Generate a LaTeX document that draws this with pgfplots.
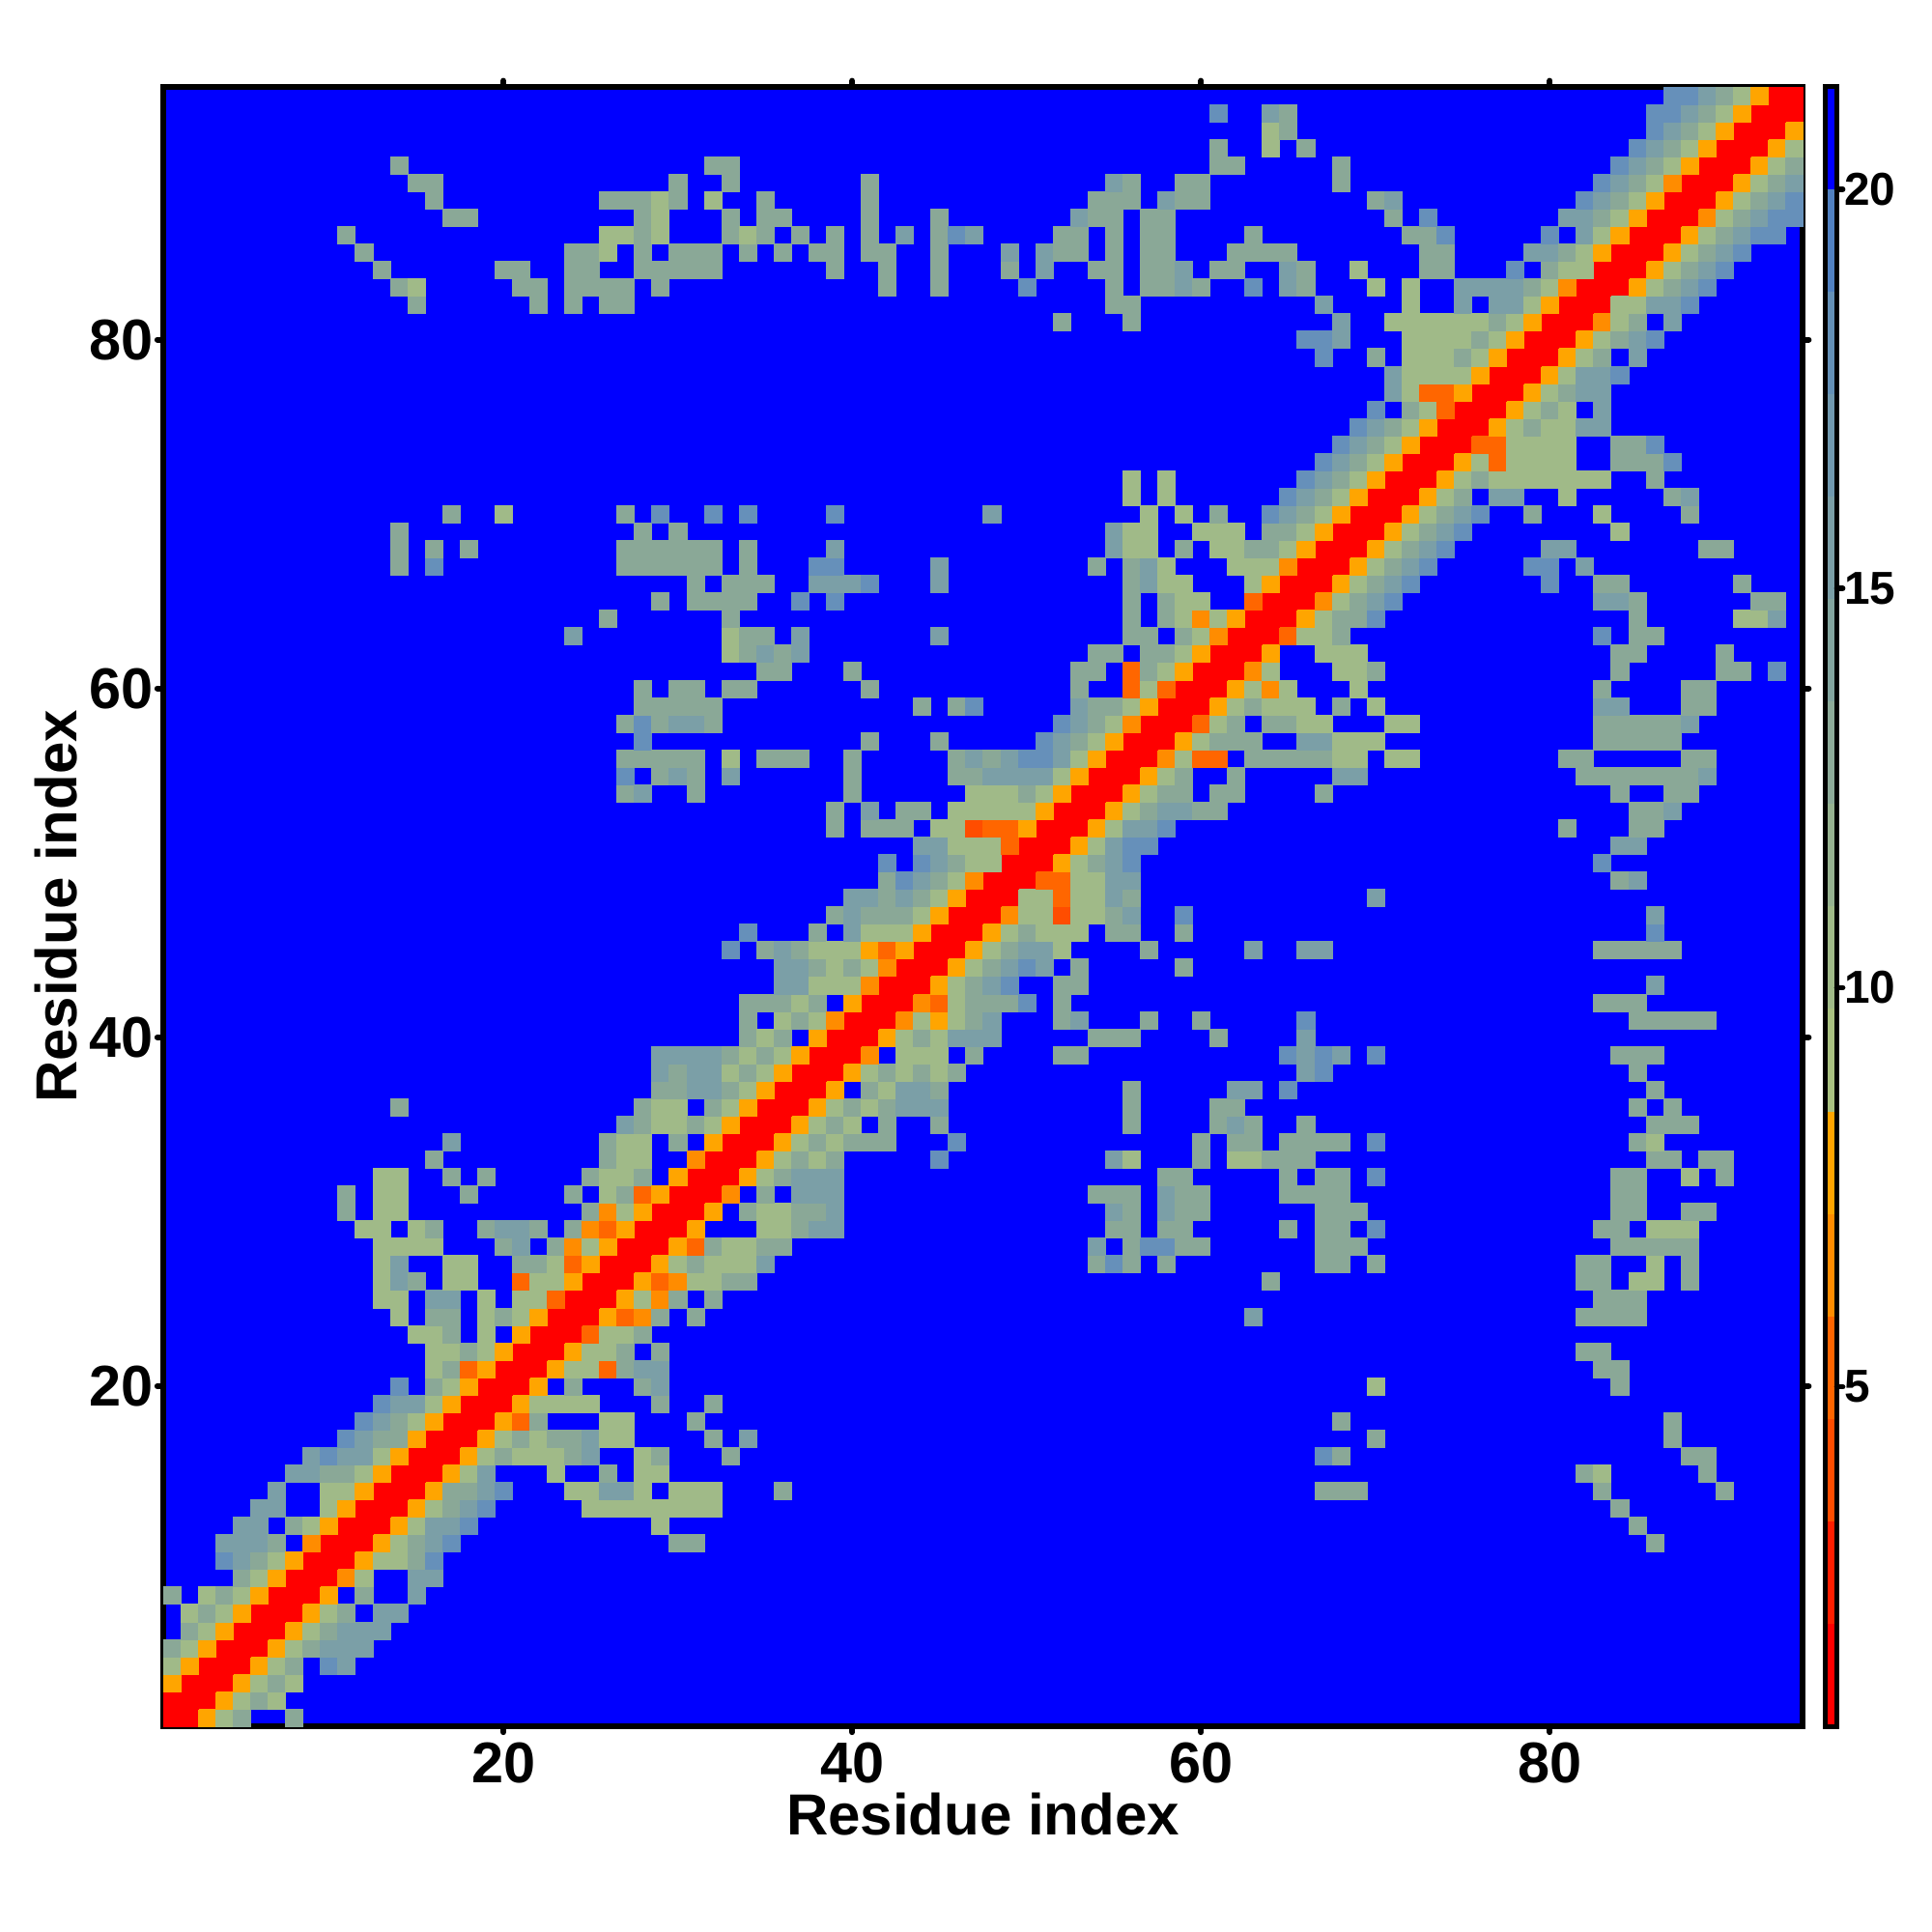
\documentclass[border=0pt]{standalone}
\usepackage{fontspec}
\setmainfont{Liberation Sans}
\usepackage{pgfplots}
\usepackage{pgfplotstable}
\pgfplotsset{compat=1.18}
\definecolor{cR}{HTML}{FF0000}
\definecolor{cF}{HTML}{FF4D00}
\definecolor{cE}{HTML}{FF6600}
\definecolor{cD}{HTML}{FF8C00}
\definecolor{cO}{HTML}{FFA500}
\definecolor{cS}{HTML}{A0BA88}
\definecolor{cG}{HTML}{8AA897}
\definecolor{cH}{HTML}{7B9FA7}
\definecolor{cT}{HTML}{6690BA}
\pgfplotstableread[row sep=\\,col sep=space]{x y c\\
1 1 r\\2 1 r\\2 2 r\\3 2 r\\3 3 r\\4 3 r\\4 4 r\\5 4 r\\5 5 r\\6 5 r\\6 6 r\\7 6 r\\7 7 r\\8 7 r\\8 8 r\\9 8 r\\9 9 r\\10 9 r\\10 10 r\\11 10 r\\
11 11 r\\12 11 r\\12 12 r\\13 12 r\\13 13 r\\14 13 r\\14 14 r\\15 14 r\\15 15 r\\16 15 r\\16 16 r\\17 16 r\\17 17 r\\18 17 r\\18 18 r\\19 18 r\\19 19 r\\20 19 r\\20 20 r\\21 20 r\\
21 21 r\\22 21 r\\22 22 r\\23 22 r\\23 23 r\\24 23 r\\24 24 r\\25 24 r\\25 25 r\\26 25 r\\26 26 r\\27 26 r\\27 27 r\\28 27 r\\28 28 r\\29 28 r\\29 29 r\\30 29 r\\30 30 r\\31 30 r\\
31 31 r\\32 31 r\\32 32 r\\33 32 r\\33 33 r\\34 33 r\\34 34 r\\35 34 r\\35 35 r\\36 35 r\\36 36 r\\37 36 r\\37 37 r\\38 37 r\\38 38 r\\39 38 r\\39 39 r\\40 39 r\\40 40 r\\41 40 r\\
41 41 r\\42 41 r\\42 42 r\\43 42 r\\43 43 r\\44 43 r\\44 44 r\\45 44 r\\45 45 r\\46 45 r\\46 46 r\\47 46 r\\47 47 r\\48 47 r\\48 48 r\\49 48 r\\49 49 r\\50 49 r\\50 50 r\\51 50 r\\
51 51 r\\52 51 r\\52 52 r\\53 52 r\\53 53 r\\54 53 r\\54 54 r\\55 54 r\\55 55 r\\56 55 r\\56 56 r\\57 56 r\\57 57 r\\58 57 r\\58 58 r\\59 58 r\\59 59 r\\60 59 r\\60 60 r\\61 60 r\\
61 61 r\\62 61 r\\62 62 r\\63 62 r\\63 63 r\\64 63 r\\64 64 r\\65 64 r\\65 65 r\\66 65 r\\66 66 r\\67 66 r\\67 67 r\\68 67 r\\68 68 r\\69 68 r\\69 69 r\\70 69 r\\70 70 r\\71 70 r\\
71 71 r\\72 71 r\\72 72 r\\73 72 r\\73 73 r\\74 73 r\\74 74 r\\75 74 r\\75 75 r\\76 75 r\\76 76 r\\77 76 r\\77 77 r\\78 77 r\\78 78 r\\79 78 r\\79 79 r\\80 79 r\\80 80 r\\81 80 r\\
81 81 r\\82 81 r\\82 82 r\\83 82 r\\83 83 r\\84 83 r\\84 84 r\\85 84 r\\85 85 r\\86 85 r\\86 86 r\\87 86 r\\87 87 r\\88 87 r\\88 88 r\\89 88 r\\89 89 r\\90 89 r\\90 90 r\\91 90 r\\
91 91 r\\92 91 r\\92 92 r\\93 92 r\\93 93 r\\94 93 r\\94 94 r\\
3 1 O\\4 1 s\\5 1 g\\8 1 g\\
4 2 O\\5 2 s\\6 2 g\\7 2 s\\
5 3 O\\6 3 s\\7 3 g\\8 3 s\\
6 4 O\\7 4 s\\8 4 g\\10 4 t\\11 4 h\\
7 5 O\\8 5 s\\9 5 g\\10 5 h\\11 5 h\\12 5 h\\
8 6 O\\9 6 s\\10 6 g\\11 6 h\\12 6 h\\13 6 h\\
9 7 O\\10 7 s\\11 7 g\\13 7 h\\14 7 h\\
10 8 O\\12 8 g\\15 8 h\\
11 9 D\\12 9 s\\15 9 h\\16 9 h\\
12 10 O\\13 10 s\\14 10 s\\15 10 g\\16 10 t\\
13 11 O\\14 11 s\\15 11 g\\16 11 h\\17 11 t\\30 11 g\\31 11 g\\86 11 g\\
14 12 O\\15 12 s\\16 12 h\\17 12 h\\18 12 t\\29 12 s\\85 12 g\\
15 13 O\\16 13 s\\17 13 g\\18 13 h\\19 13 t\\25 13 s\\26 13 s\\27 13 s\\28 13 s\\29 13 s\\30 13 s\\31 13 s\\32 13 s\\84 13 g\\
16 14 O\\17 14 g\\18 14 g\\19 14 h\\20 14 t\\24 14 s\\25 14 s\\26 14 h\\27 14 h\\28 14 s\\30 14 s\\31 14 s\\32 14 s\\36 14 g\\67 14 g\\68 14 g\\69 14 g\\83 14 g\\90 14 g\\
17 15 O\\18 15 s\\19 15 h\\23 15 s\\26 15 g\\28 15 s\\29 15 s\\82 15 g\\83 15 s\\89 15 g\\
18 16 O\\19 16 s\\20 16 g\\21 16 s\\22 16 s\\23 16 s\\24 16 g\\25 16 h\\28 16 s\\29 16 g\\33 16 g\\67 16 t\\68 16 g\\88 16 g\\89 16 g\\
19 17 O\\20 17 s\\21 17 g\\22 17 s\\23 17 g\\24 17 g\\25 17 h\\26 17 s\\27 17 s\\32 17 g\\34 17 h\\70 17 g\\87 17 g\\
20 18 O\\21 18 E\\22 18 g\\26 18 s\\27 18 s\\31 18 g\\68 18 g\\87 18 g\\
21 19 O\\22 19 s\\23 19 s\\24 19 s\\25 19 s\\29 19 g\\32 19 g\\
22 20 O\\24 20 g\\28 20 g\\29 20 h\\70 20 s\\84 20 g\\
23 21 O\\24 21 s\\25 21 s\\26 21 E\\27 21 g\\28 21 h\\29 21 h\\83 21 g\\84 21 g\\
24 22 O\\25 22 s\\26 22 s\\27 22 g\\29 22 g\\82 22 g\\83 22 g\\
25 23 E\\26 23 s\\27 23 s\\28 23 g\\
26 24 O\\27 24 E\\28 24 D\\29 24 g\\31 24 g\\63 24 h\\82 24 g\\83 24 g\\84 24 g\\85 24 g\\
27 25 O\\28 25 s\\29 25 D\\30 25 g\\32 25 g\\83 25 g\\84 25 g\\85 25 g\\
28 26 O\\29 26 E\\30 26 D\\31 26 s\\32 26 s\\33 26 g\\34 26 g\\64 26 g\\82 26 g\\83 26 g\\85 26 s\\86 26 s\\88 26 g\\
29 27 O\\30 27 s\\31 27 g\\32 27 s\\33 27 s\\34 27 s\\35 27 h\\54 27 g\\55 27 t\\56 27 g\\58 27 g\\67 27 g\\68 27 g\\70 27 g\\82 27 g\\83 27 g\\86 27 s\\88 27 g\\
30 28 O\\31 28 E\\32 28 g\\33 28 s\\34 28 s\\35 28 g\\36 28 g\\54 28 h\\56 28 g\\57 28 t\\58 28 t\\59 28 g\\60 28 g\\67 28 g\\68 28 g\\69 28 g\\84 28 g\\85 28 g\\86 28 g\\87 28 g\\88 28 g\\
31 29 O\\35 29 s\\36 29 s\\37 29 g\\38 29 h\\39 29 h\\55 29 g\\56 29 g\\58 29 g\\59 29 g\\65 29 g\\67 29 g\\68 29 g\\70 29 t\\83 29 g\\84 29 g\\86 29 s\\87 29 s\\88 29 s\\
32 30 O\\34 30 g\\35 30 s\\36 30 s\\37 30 g\\38 30 g\\39 30 h\\55 30 h\\56 30 g\\58 30 h\\59 30 g\\60 30 g\\67 30 g\\68 30 g\\69 30 g\\84 30 g\\85 30 g\\88 30 g\\89 30 g\\
33 31 D\\35 31 g\\37 31 h\\38 31 h\\39 31 h\\54 31 g\\55 31 g\\56 31 g\\58 31 h\\59 31 g\\60 31 g\\65 31 g\\66 31 g\\67 31 g\\68 31 g\\84 31 g\\85 31 g\\
34 32 O\\35 32 s\\36 32 g\\37 32 h\\38 32 h\\39 32 h\\58 32 g\\59 32 g\\65 32 g\\67 32 g\\68 32 g\\70 32 t\\84 32 g\\85 32 g\\88 32 s\\90 32 g\\
35 33 O\\36 33 s\\37 33 g\\38 33 s\\39 33 g\\45 33 t\\55 33 h\\56 33 s\\60 33 g\\62 33 s\\63 33 s\\64 33 g\\65 33 g\\66 33 g\\86 33 g\\87 33 g\\89 33 g\\90 33 g\\
36 34 O\\37 34 s\\38 34 g\\39 34 s\\40 34 g\\41 34 g\\42 34 g\\46 34 t\\60 34 g\\62 34 g\\63 34 g\\65 34 g\\66 34 g\\67 34 g\\68 34 g\\70 34 t\\85 34 g\\86 34 s\\
37 35 O\\38 35 s\\39 35 g\\40 35 s\\42 35 g\\45 35 g\\56 35 g\\61 35 g\\62 35 h\\63 35 g\\66 35 g\\86 35 g\\87 35 g\\88 35 g\\
38 36 O\\39 36 s\\40 36 g\\41 36 s\\42 36 g\\43 36 h\\44 36 h\\45 36 h\\56 36 g\\61 36 g\\62 36 g\\85 36 g\\87 36 g\\
39 37 O\\41 37 g\\42 37 s\\43 37 h\\44 37 h\\45 37 g\\56 37 g\\62 37 h\\63 37 h\\65 37 t\\86 37 g\\
40 38 O\\41 38 s\\42 38 g\\43 38 s\\44 38 g\\45 38 s\\46 38 g\\66 38 h\\67 38 t\\85 38 g\\
41 39 D\\43 39 s\\44 39 s\\45 39 s\\47 39 g\\52 39 g\\53 39 g\\65 39 t\\66 39 h\\67 39 t\\68 39 h\\70 39 t\\84 39 g\\85 39 g\\86 39 g\\
42 40 O\\43 40 s\\44 40 g\\45 40 s\\46 40 h\\47 40 h\\48 40 h\\54 40 g\\55 40 g\\56 40 g\\61 40 g\\66 40 h\\
43 41 D\\44 41 s\\45 41 O\\46 41 s\\47 41 g\\48 41 h\\52 41 g\\53 41 h\\57 41 g\\60 41 g\\66 41 t\\85 41 g\\86 41 g\\87 41 g\\88 41 g\\89 41 g\\
44 42 D\\45 42 E\\46 42 s\\47 42 g\\48 42 g\\49 42 g\\50 42 t\\52 42 g\\83 42 g\\84 42 g\\85 42 g\\
45 43 O\\46 43 s\\47 43 g\\48 43 h\\49 43 t\\52 43 g\\53 43 g\\86 43 h\\
46 44 O\\47 44 s\\48 44 g\\49 44 h\\50 44 t\\51 44 h\\53 44 g\\59 44 g\\
47 45 O\\48 45 s\\49 45 g\\50 45 h\\51 45 h\\52 45 s\\57 45 g\\63 45 h\\66 45 h\\67 45 h\\83 45 g\\84 45 g\\85 45 g\\86 45 g\\87 45 g\\
48 46 O\\49 46 s\\50 46 g\\51 46 s\\52 46 s\\53 46 s\\55 46 g\\56 46 g\\59 46 g\\86 46 t\\
49 47 D\\50 47 s\\51 47 s\\52 47 F\\53 47 s\\54 47 s\\55 47 g\\56 47 h\\59 47 t\\86 47 h\\
50 48 s\\51 48 s\\52 48 E\\53 48 s\\54 48 s\\55 48 h\\56 48 g\\70 48 h\\
51 49 E\\52 49 E\\53 49 s\\54 49 s\\55 49 h\\56 49 h\\84 49 g\\85 49 h\\
52 50 O\\53 50 s\\54 50 g\\55 50 h\\56 50 t\\83 50 t\\
53 51 O\\54 51 s\\55 51 h\\56 51 t\\57 51 t\\84 51 h\\85 51 h\\
54 52 O\\55 52 s\\56 52 h\\57 52 h\\58 52 t\\81 52 g\\85 52 g\\86 52 g\\
55 53 O\\56 53 s\\57 53 g\\58 53 h\\59 53 h\\60 53 g\\61 53 g\\85 53 g\\86 53 g\\87 53 h\\
56 54 O\\57 54 s\\58 54 g\\59 54 g\\61 54 g\\62 54 g\\67 54 g\\84 54 g\\87 54 g\\88 54 g\\
57 55 O\\58 55 s\\59 55 g\\62 55 g\\68 55 h\\69 55 h\\82 55 g\\83 55 g\\84 55 g\\85 55 g\\86 55 g\\87 55 g\\88 55 g\\89 55 h\\
58 56 D\\59 56 s\\60 56 E\\61 56 E\\63 56 g\\64 56 g\\65 56 g\\66 56 g\\67 56 g\\68 56 s\\69 56 s\\71 56 s\\72 56 s\\81 56 g\\82 56 g\\88 56 g\\89 56 g\\
59 57 O\\60 57 s\\61 57 g\\62 57 g\\63 57 g\\66 57 h\\67 57 h\\68 57 s\\69 57 s\\70 57 s\\83 57 g\\84 57 g\\85 57 g\\86 57 g\\87 57 g\\
60 58 E\\61 58 s\\62 58 g\\64 58 g\\65 58 g\\66 58 s\\67 58 s\\71 58 s\\72 58 s\\83 58 g\\84 58 g\\85 58 g\\86 58 g\\87 58 g\\88 58 h\\
61 59 O\\62 59 s\\63 59 g\\64 59 s\\65 59 s\\66 59 s\\68 59 g\\70 59 s\\83 59 h\\84 59 h\\88 59 g\\89 59 g\\
62 60 O\\63 60 s\\64 60 D\\65 60 s\\69 60 s\\83 60 g\\88 60 g\\89 60 g\\
63 61 D\\64 61 s\\68 61 s\\69 61 s\\70 61 g\\84 61 g\\90 61 g\\91 61 g\\93 61 t\\
64 62 O\\67 62 s\\68 62 s\\69 62 s\\84 62 g\\85 62 g\\90 62 g\\
65 63 E\\66 63 s\\67 63 s\\68 63 g\\83 63 t\\85 63 g\\86 63 g\\
66 64 O\\67 64 s\\68 64 g\\69 64 g\\70 64 t\\85 64 g\\91 64 s\\92 64 s\\93 64 h\\
67 65 D\\68 65 s\\69 65 g\\70 65 h\\71 65 t\\83 65 h\\84 65 h\\85 65 g\\92 65 g\\93 65 g\\
68 66 O\\69 66 s\\70 66 g\\71 66 h\\72 66 t\\80 66 t\\83 66 g\\84 66 g\\91 66 g\\
69 67 O\\70 67 s\\71 67 g\\72 67 h\\73 67 t\\79 67 t\\80 67 t\\82 67 h\\
70 68 O\\71 68 s\\72 68 g\\73 68 h\\74 68 t\\80 68 h\\81 68 h\\89 68 g\\90 68 g\\
71 69 O\\72 69 s\\73 69 g\\74 69 h\\75 69 t\\84 69 s\\
72 70 O\\73 70 s\\74 70 g\\75 70 h\\76 70 t\\79 70 g\\83 70 s\\88 70 g\\
73 71 O\\74 71 s\\75 71 g\\77 71 h\\78 71 h\\81 71 s\\87 71 g\\88 71 h\\
74 72 O\\75 72 s\\76 72 g\\77 72 s\\78 72 s\\79 72 s\\80 72 s\\81 72 s\\82 72 s\\83 72 s\\86 72 g\\
75 73 O\\76 73 s\\77 73 E\\78 73 s\\79 73 s\\80 73 s\\81 73 s\\84 73 g\\85 73 g\\86 73 g\\87 73 t\\
76 74 E\\77 74 E\\78 74 s\\79 74 s\\80 74 s\\81 74 s\\84 74 g\\85 74 g\\86 74 t\\
77 75 O\\78 75 s\\79 75 g\\80 75 s\\81 75 s\\82 75 h\\83 75 h\\
78 76 O\\79 76 s\\80 76 g\\81 76 s\\83 76 h\\
79 77 O\\80 77 s\\81 77 g\\82 77 h\\83 77 h\\
80 78 O\\81 78 s\\82 78 h\\83 78 h\\84 78 t\\
81 79 O\\82 79 s\\83 79 g\\85 79 h\\
82 80 O\\83 80 s\\84 80 g\\85 80 h\\86 80 t\\
83 81 D\\84 81 s\\85 81 g\\87 81 h\\
84 82 s\\85 82 s\\86 82 h\\87 82 h\\88 82 t\\
85 83 O\\86 83 s\\87 83 g\\88 83 h\\89 83 t\\
86 84 O\\87 84 s\\88 84 g\\89 84 h\\90 84 t\\
87 85 O\\88 85 s\\89 85 g\\90 85 h\\91 85 t\\
88 86 O\\89 86 s\\90 86 g\\91 86 h\\92 86 t\\93 86 t\\
89 87 D\\90 87 s\\91 87 g\\92 87 h\\93 87 t\\94 87 t\\
90 88 O\\91 88 s\\92 88 g\\93 88 h\\94 88 t\\
91 89 O\\92 89 s\\93 89 g\\94 89 h\\
92 90 O\\93 90 s\\94 90 g\\
93 91 O\\94 91 s\\
94 92 O\\
}\cells
\pgfplotsset{
  cellstyle/.style={
    scatter, only marks, scatter src=explicit symbolic, mark size=3.25pt,
    mark options={line width=0.1pt},
    scatter/classes={
      r={mark=square*,draw=cR,fill=cR},
      F={mark=square*,draw=cF,fill=cF},
      E={mark=square*,draw=cE,fill=cE},
      D={mark=square*,draw=cD,fill=cD},
      O={mark=square*,draw=cO,fill=cO},
      s={mark=square*,draw=cS,fill=cS},
      g={mark=square*,draw=cG,fill=cG},
      h={mark=square*,draw=cH,fill=cH},
      t={mark=square*,draw=cT,fill=cT}}},
  /pgf/number format/assume math mode=true
}
\begin{document}
\begin{tikzpicture}
\useasboundingbox (-60.84pt,-76.68pt) rectangle (659.16pt,643.32pt);
\begin{axis}[
  at={(0pt,0pt)}, anchor=south west, scale only axis, width=611pt, height=611pt,
  xmin=0.5, xmax=94.5, ymin=0.5, ymax=94.5,
  axis background/.style={fill=blue}, axis on top,
  axis line style={line width=2.2pt},
  xtick={20,40,60,80}, ytick={20,40,60,80},
  xtick pos=both, ytick pos=both, xticklabel pos=bottom, yticklabel pos=left,
  tick align=outside, major tick length=2.2pt,
  tick style={black, line width=2.2pt, line cap=round},
  tick label style={font=\fontsize{21.4}{24}\selectfont\bfseries, inner sep=0pt},
  xticklabel shift=3.6pt, yticklabel shift=1.2pt,
  xlabel={Residue index}, ylabel={Residue index},
  label style={font=\fontsize{21.6}{24}\selectfont\bfseries, inner sep=0pt},
  xlabel style={at={(axis description cs:0.5,-0.06658)},anchor=base},
  ylabel style={at={(axis description cs:-0.0530,0.5)},anchor=base,rotate=0},
]
\addplot[cellstyle] table[x=x,y=y,meta=c] {\cells};
\addplot[cellstyle] table[x=y,y=x,meta=c] {\cells};
\end{axis}
\begin{axis}[
  at={(619.38pt,0pt)}, anchor=south west, scale only axis, width=4.32pt, height=611pt,
  xmin=0, xmax=1, ymin=0.75, ymax=21.283,
  axis on top, axis line style={line width=1.8pt},
  xtick=\empty, ytick={5,10,15,20}, ytick pos=right, yticklabel pos=right,
  tick align=outside, major tick length=2.2pt,
  tick style={black, line width=2.0pt, line cap=round},
  yticklabel style={font=\fontsize{17.2}{20}\selectfont\bfseries, inner sep=0pt},
  yticklabel shift=0.3pt,
]
\addplot[fill=cR,draw=none] coordinates {(0,0.75)(1,0.75)(1,2.033)(0,2.033)};
\addplot[fill={rgb,255:red,255;green,30;blue,0},draw=none] coordinates {(0,2.033)(1,2.033)(1,3.317)(0,3.317)};
\addplot[fill=cF,draw=none] coordinates {(0,3.317)(1,3.317)(1,4.6)(0,4.6)};
\addplot[fill=cE,draw=none] coordinates {(0,4.6)(1,4.6)(1,5.883)(0,5.883)};
\addplot[fill=cD,draw=none] coordinates {(0,5.883)(1,5.883)(1,7.167)(0,7.167)};
\addplot[fill=cO,draw=none] coordinates {(0,7.167)(1,7.167)(1,8.45)(0,8.45)};
\addplot[fill={rgb,255:red,168;green,192;blue,128},draw=none] coordinates {(0,8.45)(1,8.45)(1,9.733)(0,9.733)};
\addplot[fill={rgb,255:red,160;green,186;blue,136},draw=none] coordinates {(0,9.733)(1,9.733)(1,11.017)(0,11.017)};
\addplot[fill={rgb,255:red,150;green,178;blue,144},draw=none] coordinates {(0,11.017)(1,11.017)(1,12.3)(0,12.3)};
\addplot[fill={rgb,255:red,140;green,170;blue,152},draw=none] coordinates {(0,12.3)(1,12.3)(1,13.583)(0,13.583)};
\addplot[fill={rgb,255:red,130;green,164;blue,158},draw=none] coordinates {(0,13.583)(1,13.583)(1,14.867)(0,14.867)};
\addplot[fill={rgb,255:red,122;green,158;blue,166},draw=none] coordinates {(0,14.867)(1,14.867)(1,16.15)(0,16.15)};
\addplot[fill={rgb,255:red,112;green,152;blue,174},draw=none] coordinates {(0,16.15)(1,16.15)(1,17.433)(0,17.433)};
\addplot[fill={rgb,255:red,100;green,144;blue,182},draw=none] coordinates {(0,17.433)(1,17.433)(1,18.717)(0,18.717)};
\addplot[fill={rgb,255:red,80;green,128;blue,192},draw=none] coordinates {(0,18.717)(1,18.717)(1,20)(0,20)};
\addplot[fill=blue,draw=none] coordinates {(0,20)(1,20)(1,21.283)(0,21.283)};
\end{axis}
\end{tikzpicture}
\end{document}
